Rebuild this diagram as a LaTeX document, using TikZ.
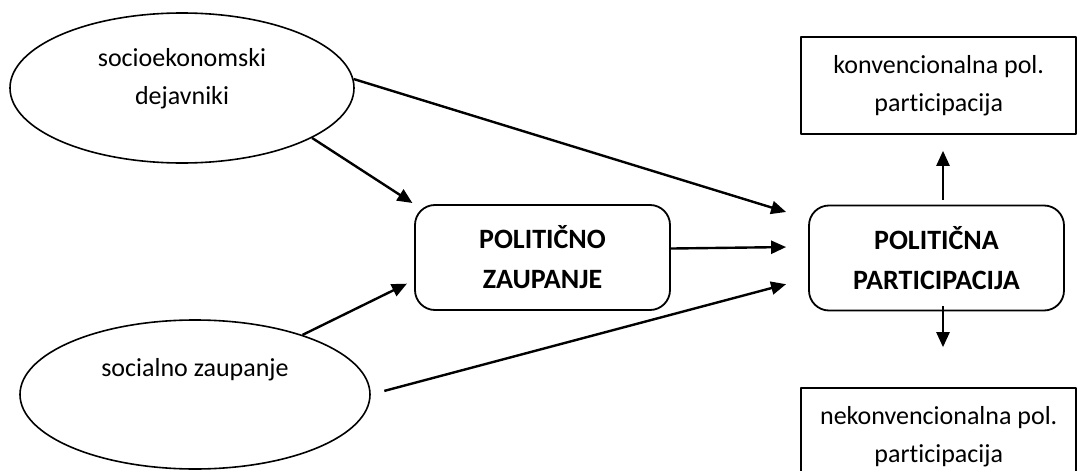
\documentclass[tikz,border=0pt]{standalone}
\usepackage{fontspec}
\setmainfont{Carlito}[Ligatures={TeX,NoCommon}]
\usetikzlibrary{shapes.geometric,arrows.meta}
\begin{document}
\begin{tikzpicture}[x=0.5pt,y=-0.5pt,line join=round,
	>={Triangle[length=7.5pt,width=6.5pt]},
	txt/.style={align=center,font=\fontsize{13pt}{19pt}\selectfont},
	bld/.style={align=center,font=\fontsize{14pt}{20pt}\selectfont\bfseries},
	oval/.style={draw,ellipse,line width=0.8pt,inner sep=0pt},
	rbox/.style={draw,rounded corners=10pt,line width=0.9pt,minimum width=127.5pt,minimum height=52.5pt,bld},
	sbox/.style={draw,line width=0.8pt,minimum width=137.5pt,minimum height=48.5pt,txt},
	pot/.style={->,line width=1.2pt}]
	\clip (0,0) rectangle (1078,471);
	% izvori
	\node[oval,minimum width=172pt,minimum height=75pt,
	label={[txt,yshift=4.5pt]center:{socioekonomski\\dejavniki}}] (se) at (182,88) {};
	\node[oval,minimum width=175pt,minimum height=74.5pt,
	label={[txt,yshift=12.5pt]center:{socialno zaupanje}}] (sz) at (195,394.5) {};
	% osrednja pojma
	\node[rbox] (pz) at (542.5,257.5) {POLITIČNO\\ZAUPANJE};
	\node[rbox] (pp) at (936.5,258) {POLITIČNA\\PARTICIPACIJA};
	% oblike participacije
	\node[sbox] (kpp) at (938.75,85.5) {konvencionalna pol.\\participacija};
	\node[sbox] (npp) at (938.75,436.5) {nekonvencionalna pol.\\participacija};
	% povezave
	\draw[pot,shorten >=1pt] (se.-21.3) -- (pz.north west);
	\draw[pot,shorten >=11.5pt] (se.3) -- (pp.163);
	\draw[pot,shorten >=4pt] (sz.29.2) -- (pz.190);
	\draw[pot,shorten <=7pt,shorten >=11.4pt] (sz.east) -- (pp.189.5);
	\draw[pot,shorten >=11pt] (pz.4.5) -- (pp.175.5);
	\draw[pot,shorten <=2.5pt,shorten >=8pt] ([xshift=3.25pt]pp.north) -- ([xshift=3.25pt]pp.north |- kpp.south);
	\draw[pot,shorten <=-2.5pt,shorten >=20pt] ([xshift=3.25pt]pp.south) -- ([xshift=3.25pt]pp.south |- npp.north);
\end{tikzpicture}
\end{document}
